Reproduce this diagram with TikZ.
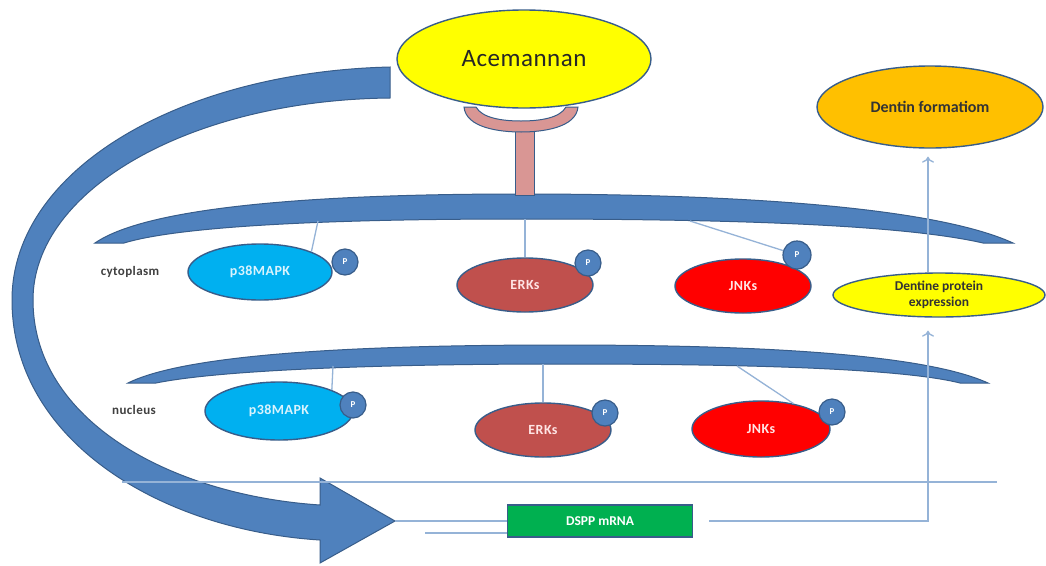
\documentclass[tikz,border=0pt]{standalone}
\usepackage{fontspec}
\setmainfont{Carlito}
\usepackage{xcolor}
\usetikzlibrary{arrows.meta,shapes.geometric,calc}

\definecolor{membblue}{HTML}{4F81BD}
\definecolor{membedge}{HTML}{385D8A}
\definecolor{linkblue}{HTML}{95B3D7}
\definecolor{acemyellow}{HTML}{FFFF00}
\definecolor{dentorange}{HTML}{FFC000}
\definecolor{mapkcyan}{HTML}{00B0F0}
\definecolor{erkred}{HTML}{C0504D}
\definecolor{jnkred}{HTML}{FF0000}
\definecolor{mrnagreen}{HTML}{00B050}
\definecolor{receptpink}{HTML}{D99694}

\begin{document}
\begin{tikzpicture}[x=1pt,y=-1pt,
    oval/.style={ellipse,draw=membedge,line width=1.4pt,inner sep=0pt,align=center},
    phos/.style={circle,fill=membblue,draw=membedge,line width=1.2pt,minimum size=26pt,inner sep=0pt,
                 text=white,font=\fontsize{9}{10}\selectfont\bfseries},
    kinase/.style={oval,font=\fontsize{14}{16}\selectfont\bfseries\addfontfeature{LetterSpace=3}},
    link/.style={draw=linkblue,line width=1.3pt},
    flow/.style={link,-{To[length=6pt,width=12pt]}},
    lbl/.style={text=black!75,font=\fontsize{13}{15}\selectfont\bfseries\addfontfeature{LetterSpace=3}}]
\useasboundingbox[fill=white] (0,0) rectangle (1046,565);

% big curved arrow
\filldraw[fill=membblue,draw=membedge,line width=1pt] (390,67) .. controls (180,72) and (12,170) .. (12,300)
    .. controls (12,440) and (160,530) .. (320,540) -- (320,563) -- (395,521) -- (320,478) -- (320,505)
    .. controls (170,495) and (33,420) .. (33,300) .. controls (33,190) and (190,100) .. (390,98) -- cycle;

% membranes
\filldraw[fill=membblue,draw=membedge,line width=1pt] (95,243) .. controls (150,205) and (330,194) .. (520,194)
    .. controls (720,194) and (930,205) .. (1013,243) -- (983,243)
    .. controls (900,224) and (720,219) .. (520,219) .. controls (330,219) and (180,226) .. (124,243) -- cycle;
\filldraw[fill=membblue,draw=membedge,line width=1pt] (128,383) .. controls (190,352) and (380,345) .. (560,345)
    .. controls (740,345) and (920,352) .. (988,383) -- (960,383)
    .. controls (900,368) and (740,364) .. (560,364) .. controls (380,364) and (220,370) .. (156,383) -- cycle;

% receptor
\filldraw[fill=receptpink,draw=membedge,line width=1pt] (515,128) rectangle (534,195);
\filldraw[fill=receptpink,draw=membedge,line width=1pt] (464,107) .. controls (466,128) and (500,132) .. (521,132)
    .. controls (542,132) and (576,128) .. (578,107) -- (566,107) .. controls (560,118) and (540,121) .. (521,121)
    .. controls (502,121) and (482,118) .. (476,107) -- cycle;

\node[oval,fill=acemyellow,minimum width=254pt,minimum height=98pt,text=black!85,
      font=\fontsize{25}{28}\selectfont\addfontfeature{LetterSpace=2}] (acem) at (524,59) {Acemannan};
\node[oval,fill=dentorange,minimum width=226pt,minimum height=82pt,text=black!80,
      font=\fontsize{16}{18}\selectfont\bfseries] (dentin) at (930,107) {Dentin formatiom};
\node[oval,fill=acemyellow,minimum width=212pt,minimum height=44pt,text=black!80,
      font=\fontsize{13.5}{16}\selectfont\bfseries] (dpe) at (939,295) {Dentine protein\\expression};

\node[lbl] (cyto) at (130,272) {cytoplasm};
\node[lbl] (nucl) at (134,410) {nucleus};

% cytoplasm kinases
\node[kinase,fill=mapkcyan,minimum width=144pt,minimum height=56pt,text=cyan!15] (cp38) at (260,272) {p38MAPK};
\node[kinase,fill=erkred,minimum width=136pt,minimum height=54pt,text=red!10] (cerk) at (525,285) {ERKs};
\node[kinase,fill=jnkred,minimum width=136pt,minimum height=54pt,text=red!10] (cjnk) at (743,286) {JNKs};
\node[phos] (cp38p) at (345,262) {P};
\node[phos] (cerkp) at (588,263) {P};
\node[phos,minimum size=28pt] (cjnkp) at (797,255) {P};

% nucleus kinases
\node[kinase,fill=mapkcyan,minimum width=148pt,minimum height=58pt,text=cyan!15] (np38) at (279,411) {p38MAPK};
\node[kinase,fill=erkred,minimum width=136pt,minimum height=54pt,text=red!10] (nerk) at (543,430) {ERKs};
\node[kinase,fill=jnkred,minimum width=138pt,minimum height=56pt,text=red!10] (njnk) at (761,429) {JNKs};
\node[phos] (np38p) at (353,405) {P};
\node[phos] (nerkp) at (605,413) {P};
\node[phos] (njnkp) at (832,412) {P};

\node[draw=membedge,line width=1.2pt,fill=mrnagreen,minimum width=185pt,minimum height=32pt,text=white,
      font=\fontsize{13.5}{15}\selectfont\bfseries] (dspp) at (600,521) {DSPP mRNA};

% links from the membranes
\coordinate (cm1) at (318,221);
\coordinate (cm2) at (525,219);
\coordinate (cm3) at (690,221);
\coordinate (nm1) at (333,366);
\coordinate (nm2) at (543,364);
\coordinate (nm3) at (737,366);
\draw[link] (cm1) -- (cp38.north east);
\draw[link] (cm2) -- (cerk.north);
\draw[link] (cm3) -- (cjnkp);
\draw[link] (nm1) -- (np38.north east);
\draw[link] (nm2) -- (nerk.north);
\draw[link] (nm3) -- (njnk.38);

% lines at the bottom
\coordinate (hl1) at (122,482);
\coordinate (hl2) at (997,482);
\coordinate (tipa) at (395,521);
\coordinate (tipb) at (425,533);
\coordinate (turn) at (928,521);
\draw[link] (hl1) -- (hl2);
\draw[link] (tipa) -- (dspp.west);
\draw[link] (tipb) -- (tipb -| dspp.west);
\draw[flow,shorten <=16pt,shorten >=13pt] (dspp.east) -- (turn) -- (turn |- dpe.south);
\draw[flow,shorten >=8pt] (turn |- dpe.north) -- (turn |- dentin.south);
\end{tikzpicture}
\end{document}
